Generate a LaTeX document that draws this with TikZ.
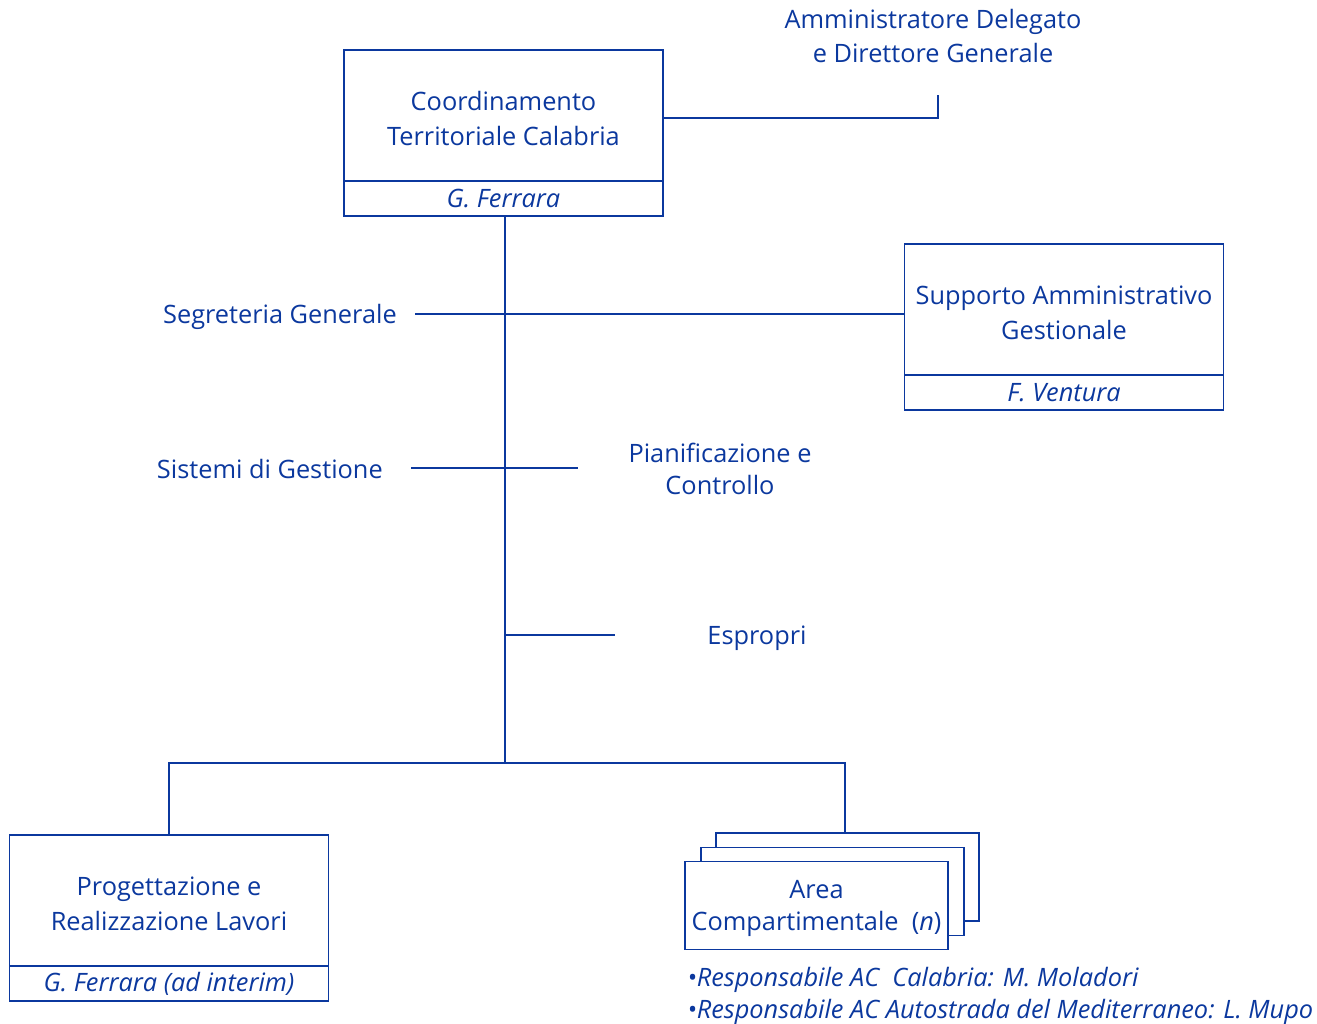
\documentclass[tikz,border=0pt]{standalone}
\usepackage{fontspec}
\setmainfont{Open Sans}
\usetikzlibrary{positioning,calc}
\definecolor{orgblue}{HTML}{0B389E}

\tikzset{
  unitbox/.style={draw=orgblue, line width=1.4pt, fill=white,
    minimum width=239.25pt, minimum height=98.25pt, inner sep=0pt, outer sep=0pt},
  namebox/.style={draw=orgblue, line width=1.4pt, text=orgblue, font=\fontsize{19}{26}\selectfont\itshape,
    minimum width=239.25pt, minimum height=26.25pt, inner sep=0pt, outer sep=0pt},
  areabox/.style={draw=orgblue, line width=1.4pt, fill=white,
    minimum width=197.25pt, minimum height=66pt, inner sep=0pt},
  boxlabel/.style={text=orgblue, align=center, inner sep=0pt, yshift=-2.25pt},
  staff/.style={text=orgblue, align=center, inner sep=0pt, yshift=-2.25pt},
  link/.style={draw=orgblue, line width=1.6pt},
}

\begin{document}
\begin{tikzpicture}[x=0.75pt, y=-0.75pt, font=\fontsize{19}{26}\selectfont]
    \useasboundingbox (0,0) rectangle (1317,1024);

    % top unit
    \node[unitbox, label={[boxlabel]center:{Coordinamento\\Territoriale Calabria}}] (ctc) at (503.5,115.5) {};
    \node[namebox, below=0pt of ctc] (ctcname) {G. Ferrara};
    \node[staff] (ad) at (933,33) {Amministratore Delegato\\e Direttore Generale};
    \coordinate (adfoot) at (938,95);

    % staff units
    \node[unitbox, label={[boxlabel]center:{Supporto Amministrativo\\Gestionale}}] (sag) at (1064,309.5) {};
    \node[namebox, below=0pt of sag] (sagname) {F. Ventura};
    \node[staff, anchor=east] (seg) at (397,314) {Segreteria Generale};
    \node[staff, anchor=east] (sdg) at (383,466) {Sistemi di Gestione};
    \node[staff, font=\fontsize{19}{24}\selectfont] (pec) at (720,466) {Pianificazione e\\Controllo};
    \node[staff] (esp) at (757,635) {Espropri};

    % line units
    \node[unitbox, label={[boxlabel]center:{Progettazione e\\Realizzazione Lavori}}] (prl) at (169,900.5) {};
    \node[namebox, below=0pt of prl] (prlname) {G. Ferrara (ad interim)};
    \node[areabox] (ac3) at (847.5,877) {};
    \node[areabox] (ac2) at (832.5,891.5) {};
    \node[areabox, label={[boxlabel, font=\fontsize{19}{24}\selectfont]center:{Area\\Compartimentale~~(\textit{n})}}] (ac1) at (816.5,905.5) {};
    \node[staff, font=\fontsize{19}{24}\selectfont\itshape, align=left, anchor=north west] (resp) at (687,964)
      {•Responsabile AC~~Calabria: M. Moladori\\•Responsabile AC Autostrada del Mediterraneo: L. Mupo};

    % connectors
    \coordinate (trunk) at (505,763);
    \draw[link] (ctc.east |- 0,118) -| (adfoot);
    \draw[link] (ctcname.south -| trunk) -- (trunk);
    \draw[link] (415,314) coordinate (segend) -- (sag.west |- segend);
    \draw[link] (411,468) coordinate (sdgend) -- (578,468) coordinate (pecend);
    \draw[link] (trunk |- 0,635) coordinate (espstart) -- (615,635) coordinate (espend);
    \draw[link] (prl.north) -- (prl.north |- trunk) -- (trunk -| 845,0) -- (ac3.north -| 845,0);
\end{tikzpicture}
\end{document}
